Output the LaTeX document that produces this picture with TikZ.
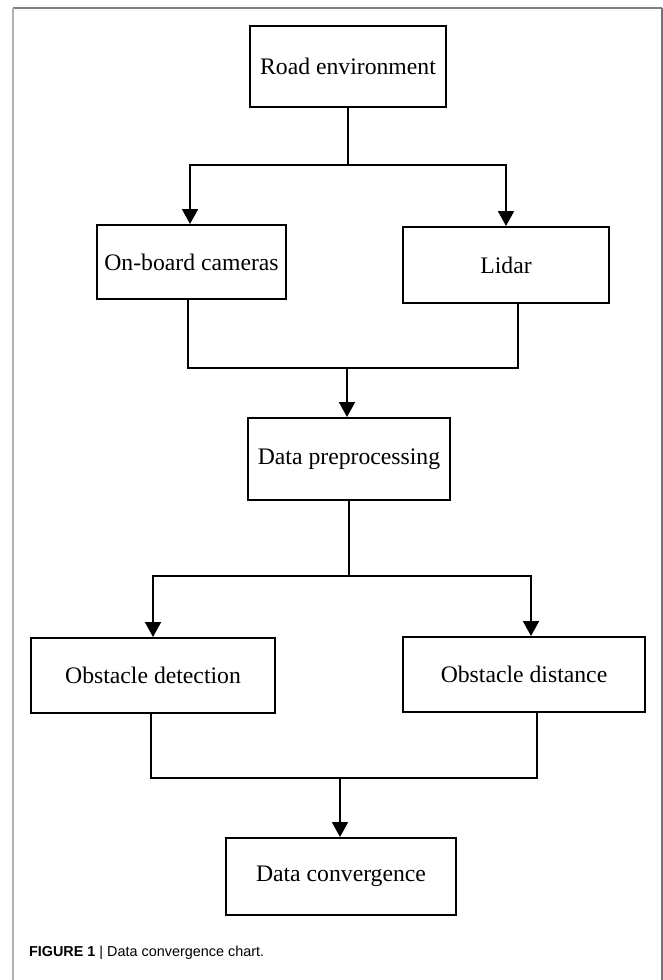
\documentclass[tikz,border=0pt]{standalone}
\usepackage{fontspec}
\setmainfont{Liberation Serif}
\newfontfamily\capfont{Liberation Sans}
\usetikzlibrary{arrows.meta}

\begin{document}
\begin{tikzpicture}[
  x=0.5pt,y=-0.5pt,
  font=\fontsize{11.85pt}{14pt}\selectfont,
  >={Triangle[width=8pt,length=7.5pt]},
  box/.style={draw,line width=1pt,inner sep=0pt,align=center},
  link/.style={line width=1pt},
  flow/.style={link,->},
  frame/.style={line width=1pt}
]
\useasboundingbox (0,0) rectangle (663,980);
% outer frame of the figure
\draw[frame,black!50] (13,8) -- (662,8);
\draw[frame,black!30] (13,8) -- (13,980);
\draw[frame,black!55] (662,8) -- (662,980);

% boxes
\node[box,minimum width=98pt,minimum height=40.5pt] (road) at (348,66.5) {Road environment};
\node[box,minimum width=94.5pt,minimum height=37pt] (cams) at (191.5,262) {On-board cameras};
\node[box,minimum width=103pt,minimum height=38pt] (lidar) at (506,265) {Lidar};
\node[box,minimum width=101pt,minimum height=41pt] (prep) at (349,459) {Data preprocessing};
\node[box,minimum width=122pt,minimum height=37.5pt] (detect) at (153,675.5) {Obstacle detection};
\node[box,minimum width=121pt,minimum height=37.5pt] (dist) at (524,674.5) {Obstacle distance};
\node[box,minimum width=115pt,minimum height=38.5pt] (conv) at (341,876.5) {Data convergence};

% forks and joins
\coordinate (fork1) at (347,165);
\coordinate (join1) at (347,368);
\coordinate (fork2) at (349,576);
\coordinate (join2) at (340,778);

\draw[link] (road.south) -- (road.south |- fork1);
\draw[flow] (fork1) -| ([xshift=-0.75pt]cams.north);
\draw[flow] (fork1) -| (lidar.north);

\draw[link] ([xshift=-1.75pt]cams.south) |- (join1);
\draw[link] ([xshift=6pt]lidar.south) |- (join1);
\draw[flow] (join1) -- (join1 |- prep.north);

\draw[link] (prep.south) -- (prep.south |- fork2);
\draw[flow] (fork2) -| (detect.north);
\draw[flow] (fork2) -| ([xshift=3.5pt]dist.north);

\draw[link] ([xshift=-1pt]detect.south) |- (join2);
\draw[link] ([xshift=6.5pt]dist.south) |- (join2);
\draw[flow] (join2) -- (join2 |- conv.north);

\node[anchor=base west,font=\capfont\fontsize{7.2pt}{9pt}\selectfont] (caption) at (22,956)
  {\textbf{FIGURE 1} | Data convergence chart.};
\end{tikzpicture}
\end{document}
